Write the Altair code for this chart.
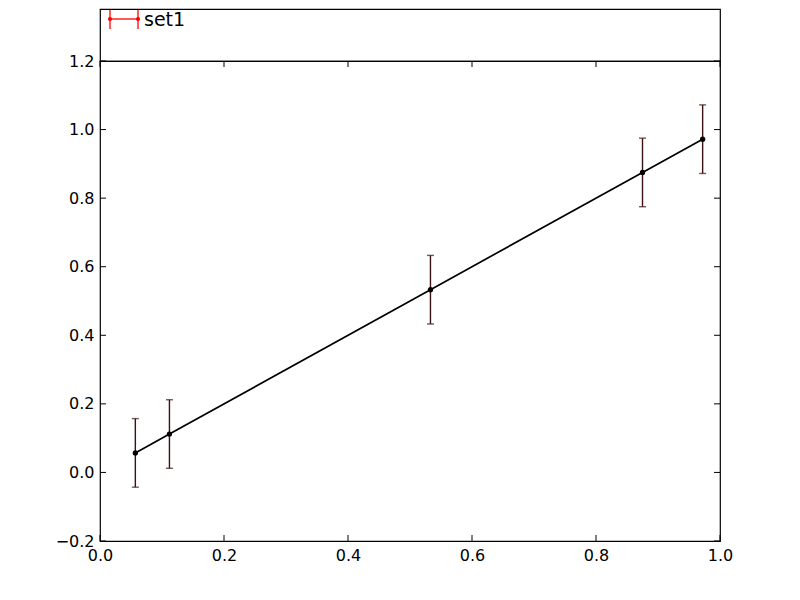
import altair as alt
import pandas as pd

# data
x_vals = [0.057, 0.112, 0.533, 0.875, 0.972]
y_vals = [0.057, 0.112, 0.533, 0.875, 0.972]
y_err = [0.1, 0.1, 0.1, 0.1, 0.1]
x_ticks = [0.0, 0.2, 0.4, 0.6, 0.8, 1.0]
y_ticks = [-0.2, 0.0, 0.2, 0.4, 0.6, 0.8, 1.0, 1.2]
series_name = "set1"

FONT = "DejaVu Sans"
W, H = 620, 480
TOP_H = 52
TICK = 6
ERR_COLOR = "#3a1212"

df = pd.DataFrame({"x": x_vals, "y": y_vals, "err": y_err})
df["lo"] = df["y"] - df["err"]
df["hi"] = df["y"] + df["err"]

xs = alt.Scale(domain=[0, 1], nice=False, zero=False)
ys = alt.Scale(domain=[-0.2, 1.2], nice=False, zero=False)

xaxis = alt.Axis(values=x_ticks, format=".1f", labelFont=FONT, labelFontSize=16,
                 labelColor="black", tickSize=0, domain=False, grid=False,
                 labelPadding=6, labelFlush=False, labelOverlap=False, title=None)
yaxis = alt.Axis(values=y_ticks, format=".1f", labelFont=FONT, labelFontSize=16,
                 labelColor="black", tickSize=0, domain=False, grid=False,
                 labelPadding=6, labelFlush=False, labelOverlap=False, title=None)

base = alt.Chart(df)

errbars = base.mark_rule(color=ERR_COLOR, strokeWidth=1.4).encode(
    x=alt.X("x:Q", scale=xs, axis=xaxis),
    y=alt.Y("lo:Q", scale=ys, axis=yaxis),
    y2="hi:Q",
)
caps_lo = base.mark_tick(color=ERR_COLOR, size=7, thickness=1.4, orient="horizontal").encode(
    x=alt.X("x:Q", scale=xs), y=alt.Y("lo:Q", scale=ys))
caps_hi = base.mark_tick(color=ERR_COLOR, size=7, thickness=1.4, orient="horizontal").encode(
    x=alt.X("x:Q", scale=xs), y=alt.Y("hi:Q", scale=ys))
line = base.mark_line(color="black", strokeWidth=1.7).encode(
    x=alt.X("x:Q", scale=xs), y=alt.Y("y:Q", scale=ys))
pts = base.mark_circle(color="black", size=28, opacity=1).encode(
    x=alt.X("x:Q", scale=xs), y=alt.Y("y:Q", scale=ys))

xt = pd.DataFrame({"t": x_ticks})
yt = pd.DataFrame({"t": y_ticks})
tick_bottom = alt.Chart(xt).mark_rule(color="black").encode(
    x=alt.X("t:Q", scale=xs), y=alt.value(H), y2=alt.value(H - TICK))
tick_top = alt.Chart(xt).mark_rule(color="black").encode(
    x=alt.X("t:Q", scale=xs), y=alt.value(0), y2=alt.value(TICK))
tick_left = alt.Chart(yt).mark_rule(color="black").encode(
    y=alt.Y("t:Q", scale=ys), x=alt.value(0), x2=alt.value(TICK))
tick_right = alt.Chart(yt).mark_rule(color="black").encode(
    y=alt.Y("t:Q", scale=ys), x=alt.value(W), x2=alt.value(W - TICK))

main = alt.layer(errbars, caps_lo, caps_hi, line, pts,
                 tick_bottom, tick_top, tick_left, tick_right).properties(width=W, height=H)

# legend panel
leg = pd.DataFrame({"name": [series_name]})
lg = alt.Chart(leg)
leg_line = lg.mark_rule(color="red", strokeWidth=1.3).encode(
    x=alt.value(10), x2=alt.value(38), y=alt.value(10))
leg_cap1 = lg.mark_rule(color="red", strokeWidth=1.3).encode(
    x=alt.value(10), y=alt.value(1), y2=alt.value(20))
leg_cap2 = lg.mark_rule(color="red", strokeWidth=1.3).encode(
    x=alt.value(38), y=alt.value(1), y2=alt.value(20))
leg_dot1 = lg.mark_circle(color="red", size=18, opacity=1).encode(
    x=alt.value(10), y=alt.value(10))
leg_dot2 = lg.mark_circle(color="red", size=18, opacity=1).encode(
    x=alt.value(38), y=alt.value(10))
leg_text = lg.mark_text(align="left", baseline="middle", font=FONT, fontSize=19,
                        color="black").encode(text="name:N", x=alt.value(44), y=alt.value(11))
top = alt.layer(leg_line, leg_cap1, leg_cap2, leg_dot1, leg_dot2, leg_text).properties(
    width=W, height=TOP_H)

chart = alt.vconcat(top, main, spacing=0, bounds="flush").properties(
    padding={"left": 46, "top": 0, "right": 10, "bottom": 5}
).configure(background="white").configure_view(stroke="black", strokeWidth=1.2)

chart.save("out.html", embed_options={"renderer": "svg", "actions": False})
